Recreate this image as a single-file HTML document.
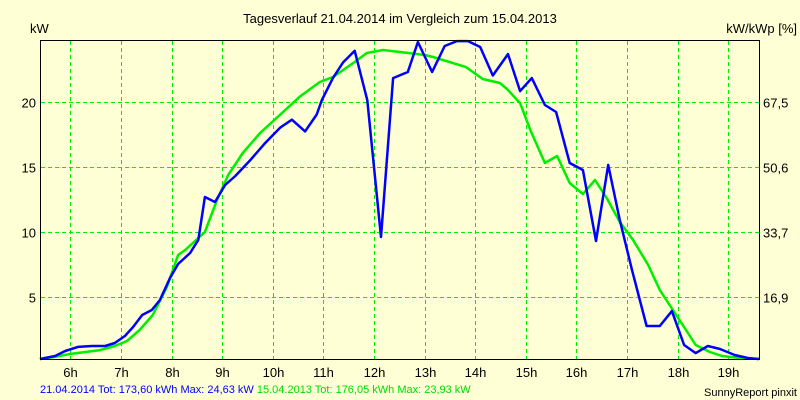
<!DOCTYPE html>
<html><head><meta charset="utf-8"><style>
body{margin:0;background:#ffffd5;}
svg{display:block;font-family:"Liberation Sans",sans-serif;}
</style></head><body>
<svg id="chart" width="800" height="400" viewBox="0 0 800 400" xmlns="http://www.w3.org/2000/svg">
<rect width="800" height="400" fill="#ffffd5"/>
<text x="400" y="23" font-size="13" text-anchor="middle">Tagesverlauf 21.04.2014 im Vergleich zum 15.04.2013</text>
<text x="30" y="33" font-size="13">kW</text>
<text x="797" y="33" font-size="13" text-anchor="end">kW/kWp [%]</text>
<g id="grid"></g>
<g id="series"></g>
<rect x="40.5" y="40.5" width="719" height="319" fill="none" stroke="#000" stroke-width="1"/>
<g id="labels"></g>
<text x="40" y="393" font-size="11"><tspan fill="#0000ff">21.04.2014 Tot: 173,60 kWh Max: 24,63 kW </tspan><tspan fill="#00dd00">15.04.2013 Tot: 176,05 kWh Max: 23,93 kW</tspan></text>
<text x="797" y="396" font-size="11" text-anchor="end">SunnyReport pinxit</text>
</svg>
<script>
const hourTicks=[6,7,8,9,10,11,12,13,14,15,16,17,18,19];
const kwTicks=[5,10,15,20];
const kwpTickLabels=["16,9","33,7","50,6","67,5"];
const blueHours=[5.40,5.70,5.90,6.15,6.43,6.69,6.88,7.08,7.24,7.42,7.61,7.77,7.97,8.13,8.37,8.53,8.66,8.86,9.06,9.26,9.56,9.85,10.15,10.38,10.64,10.87,10.97,11.19,11.39,11.62,11.87,12.14,12.38,12.67,12.87,13.15,13.40,13.64,13.86,14.10,14.35,14.65,14.89,15.12,15.38,15.60,15.87,16.13,16.39,16.63,16.86,17.10,17.39,17.65,17.89,18.13,18.36,18.60,18.84,19.13,19.39,19.61];
const blueKw=[0,0.42,0.81,1.12,1.19,1.19,1.42,1.96,2.65,3.58,3.96,4.73,6.42,7.5,8.35,9.35,12.65,12.27,13.58,14.27,15.5,16.8,18.0,18.6,17.7,19.0,20.1,21.8,23.0,23.9,20.1,9.58,21.8,22.27,24.58,22.27,24.27,24.65,24.65,24.19,22.0,23.65,20.8,21.8,19.73,19.19,15.27,14.73,9.27,15.12,10.88,7.04,2.73,2.73,3.88,1.27,0.65,1.19,0.96,0.5,0.27,0.1];
const greenHours=[5.40,5.70,5.99,6.59,6.88,7.12,7.37,7.63,7.91,8.13,8.27,8.66,8.90,9.12,9.41,9.75,10.14,10.53,10.93,11.19,11.62,11.86,12.18,12.51,13.01,13.17,13.82,14.15,14.49,14.63,14.89,15.09,15.38,15.62,15.87,16.13,16.37,16.60,16.86,17.12,17.42,17.65,17.91,18.13,18.36,18.64,18.88,19.23,19.61];
const greenKw=[0,0.35,0.58,0.88,1.19,1.58,2.42,3.58,5.73,8.19,8.58,9.96,12.42,14.35,16.04,17.58,18.96,20.35,21.5,21.88,23.04,23.73,23.96,23.81,23.58,23.42,22.65,21.73,21.42,20.96,19.88,17.81,15.27,15.81,13.73,12.88,13.96,12.58,10.73,9.35,7.42,5.5,3.96,2.65,1.27,0.73,0.42,0.27,0.1];
const NS="http://www.w3.org/2000/svg";
function xS(h){return 70.3+(h-6)*50.6;}
function yS(v){return Math.min(359,361.5-v*13.0);}
const grid=document.getElementById('grid'),labels=document.getElementById('labels'),series=document.getElementById('series');
function mk(tag,attrs,parent){const e=document.createElementNS(NS,tag);for(const k in attrs)e.setAttribute(k,attrs[k]);parent.appendChild(e);return e;}
hourTicks.forEach(h=>{
  const x=Math.round(xS(h))+0.5;
  const l=mk('line',{x1:x,y1:41,x2:x,y2:359,stroke:'#00ee00','stroke-dasharray':'4,3'},grid);
  
  
  const t=mk('text',{x:x,y:377,'font-size':13,'text-anchor':'middle'},labels);
  t.textContent=h+'h';
  
  
});
kwTicks.forEach((v,i)=>{
  const y=Math.round(yS(v))+0.5;
  const l=mk('line',{x1:41,y1:y,x2:759,y2:y,stroke:'#00ee00','stroke-dasharray':'4,3'},grid);
  
  
  const t=mk('text',{x:36,y:y+5,'font-size':13,'text-anchor':'end'},labels);
  t.textContent=v;
  
  
  const t2=mk('text',{x:763,y:y+5,'font-size':13},labels);
  t2.textContent=kwpTickLabels[i];
  
  
});
function line(hs,vs,color,name){
  const p=mk('polyline',{points:hs.map((h,i)=>xS(h).toFixed(1)+','+yS(vs[i]).toFixed(1)).join(' '),fill:'none',stroke:color,'stroke-width':2.5,'stroke-linejoin':'round'},series);
  
  
}
line(greenHours,greenKw,'#00ee00','series-2013-line');
line(blueHours,blueKw,'#0000ff','series-2014-line');
</script>
</body></html>
